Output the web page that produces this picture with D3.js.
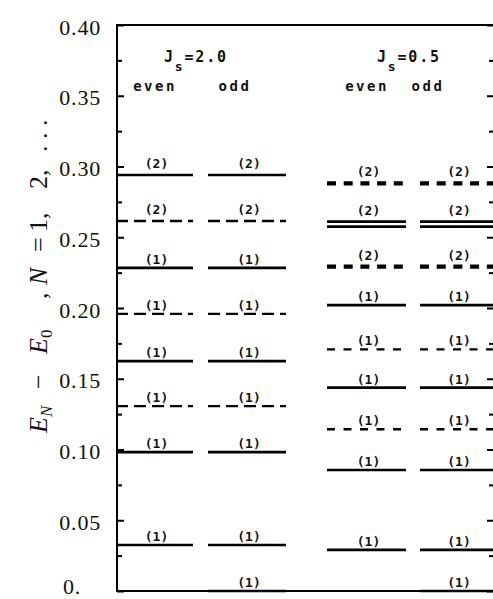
<!DOCTYPE html>
<html>
<head>
<meta charset="utf-8">
<script src="https://cdn.jsdelivr.net/npm/d3@7"></script>
<style>
  html, body { margin: 0; padding: 0; background: #fff; }
  svg { display: block; }
</style>
</head>
<body>
<div id="chart"></div>
<script>
// ---------------- data ----------------
const yTickValues = [0, 0.05, 0.10, 0.15, 0.20, 0.25, 0.30, 0.35, 0.40];
const yTickLabels = ["0.", "0.05", "0.10", "0.15", "0.20", "0.25", "0.30", "0.35", "0.40"];
const yMinorTicks = [0.025, 0.075, 0.125, 0.175, 0.225, 0.275, 0.325, 0.375];

const panelCouplings = ["2.0", "0.5"];
const sectorNames = ["even", "odd"];

// J_s = 2.0 : levels shared by even and odd sectors
const js20Energy = [0.294, 0.2615, 0.2283, 0.1958, 0.1625, 0.1307, 0.0982, 0.0325];
const js20Label  = ["(2)", "(2)", "(1)", "(1)", "(1)", "(1)", "(1)", "(1)"];
const js20Style  = ["solid", "dashed", "solid", "dashed", "solid", "dashed", "solid", "solid"];

// J_s = 0.5 : levels shared by even and odd sectors
const js05Energy = [0.2881, 0.2610, 0.2575, 0.2292, 0.2021, 0.1708, 0.1437, 0.1143, 0.0855, 0.029];
const js05Label  = ["(2)", "(2)", "", "(2)", "(1)", "(1)", "(1)", "(1)", "(1)", "(1)"];
const js05Style  = ["heavy", "solid", "solid", "heavy", "solid", "fine", "solid", "fine", "solid", "solid"];

// levels present only in the odd sector (both panels)
const oddOnlyEnergy = [0];
const oddOnlyLabel  = ["(1)"];
const oddOnlyStyle  = ["solid"];

// ---------------- layout ----------------
const W = 493, H = 599;
const plot = { left: 117, right: 494, top: 25, bottom: 591 };
const columnPx = [
  [[116, 193], [208, 286]],
  [[327, 406], [420, 494]]
];
const styleDefs = {
  solid:  { width: 2.7, dash: null },
  dashed: { width: 2.3, dash: "12,6" },
  fine:   { width: 2.3, dash: "8,8.5" },
  heavy:  { width: 4.3, dash: "9,7.7" }
};

const svg = d3.select("#chart").append("svg")
  .attr("width", W).attr("height", H);

const y = d3.scaleLinear().domain([0, 0.40]).range([plot.bottom, plot.top]);

// frame
const frame = svg.append("g").attr("stroke", "#000").attr("stroke-width", 2).attr("fill", "none");
frame.append("line").attr("x1", plot.left).attr("x2", plot.left).attr("y1", plot.top - 1).attr("y2", plot.bottom + 1);
frame.append("line").attr("x1", plot.right).attr("x2", plot.right).attr("y1", plot.top).attr("y2", plot.bottom);
frame.append("line").attr("x1", plot.left - 1).attr("x2", plot.right).attr("y1", plot.top).attr("y2", plot.top);
frame.append("line").attr("x1", plot.left - 1).attr("x2", plot.right).attr("y1", plot.bottom).attr("y2", plot.bottom);

// left axis (ticks inward)
const leftAxis = d3.axisRight(y).tickValues(yTickValues).tickSize(7).tickFormat("");
const gL = svg.append("g").attr("transform", `translate(${plot.left},0)`).call(leftAxis);
gL.select(".domain").remove();
gL.selectAll("line").attr("stroke-width", 2);
const leftMinor = d3.axisRight(y).tickValues(yMinorTicks).tickSize(5).tickFormat("");
const gLm = svg.append("g").attr("transform", `translate(${plot.left},0)`).call(leftMinor);
gLm.select(".domain").remove();
gLm.selectAll("line").attr("stroke-width", 2);

// right axis (ticks inward)
const rightAxis = d3.axisLeft(y).tickValues(yTickValues).tickSize(7).tickFormat("");
const gR = svg.append("g").attr("transform", `translate(${plot.right},0)`).call(rightAxis);
gR.select(".domain").remove();
gR.selectAll("line").attr("stroke-width", 2);
const rightMinor = d3.axisLeft(y).tickValues(yMinorTicks).tickSize(5).tickFormat("");
const gRm = svg.append("g").attr("transform", `translate(${plot.right},0)`).call(rightMinor);
gRm.select(".domain").remove();
gRm.selectAll("line").attr("stroke-width", 2);

// tick labels
svg.append("g").selectAll("text")
  .data(yTickValues)
  .join("text")
  .attr("x", (d, i) => i === 0 ? 81 : 101)
  .attr("y", (d, i) => i === 0 ? y(d) + 3 : y(d) + 2)
  .attr("dy", (d, i) => i === 0 ? "0" : "0.35em")
  .attr("text-anchor", "end")
  .attr("font-family", "'Liberation Serif', 'DejaVu Serif', serif")
  .attr("font-size", 22)
  .attr("letter-spacing", 0.8)
  .attr("fill", "#111")
  .text((d, i) => yTickLabels[i]);

// y axis title: pieces placed along the rotated baseline (screen y where each piece starts)
const titlePieces = [
  { t: "E", italic: true, sub: "N", at: 433 },
  { t: "\u2212", at: 389 },
  { t: "E", italic: true, sub: "0", at: 354 },
  { t: ",", at: 299 },
  { t: "N", italic: true, at: 285 },
  { t: "=", at: 252 },
  { t: "1,", at: 232 },
  { t: "2,", at: 189 },
  { t: ". . .", at: 152 }
];
const yt = svg.append("text")
  .attr("transform", `translate(47,0) rotate(-90)`)
  .attr("font-family", "'Liberation Serif', 'DejaVu Serif', serif")
  .attr("font-size", 26)
  .attr("fill", "#111");
titlePieces.forEach(p => {
  yt.append("tspan").attr("x", -p.at).attr("y", 0)
    .attr("font-style", p.italic ? "italic" : null).text(p.t);
  if (p.sub) {
    yt.append("tspan").attr("y", 5).attr("font-size", 17)
      .attr("font-style", p.sub === "N" ? "italic" : null).text(p.sub);
  }
});

// ---------------- levels ----------------
const panelLevels = [
  { energy: js20Energy, label: js20Label, style: js20Style },
  { energy: js05Energy, label: js05Label, style: js05Style }
];

const levels = [];
panelLevels.forEach((p, pi) => {
  sectorNames.forEach((s, si) => {
    p.energy.forEach((e, k) => levels.push({ pi, si, e, label: p.label[k], style: p.style[k] }));
    if (si === 1) {
      oddOnlyEnergy.forEach((e, k) => levels.push({ pi, si, e, label: oddOnlyLabel[k], style: oddOnlyStyle[k] }));
    }
  });
});

const gLev = svg.append("g");
gLev.selectAll("line")
  .data(levels)
  .join("line")
  .attr("x1", d => columnPx[d.pi][d.si][0])
  .attr("x2", d => columnPx[d.pi][d.si][1])
  .attr("y1", d => y(d.e))
  .attr("y2", d => y(d.e))
  .attr("stroke", "#000")
  .attr("stroke-width", d => styleDefs[d.style].width)
  .attr("stroke-dasharray", d => styleDefs[d.style].dash);

const plotterFont = "'DejaVu Sans Mono', monospace";
gLev.selectAll("text")
  .data(levels.filter(d => d.label))
  .join("text")
  .attr("x", d => (columnPx[d.pi][d.si][0] + columnPx[d.pi][d.si][1]) / 2 + 2)
  .attr("y", d => y(d.e) - (d.label === "(2)" ? 7 : 4))
  .attr("text-anchor", "middle")
  .attr("font-family", plotterFont)
  .attr("font-weight", "bold")
  .attr("font-size", 13)
  .attr("fill", "#111")
  .text(d => d.label);

// ---------------- panel headers ----------------
const headerX = [164, 377];
const sectorX = [[155, 235], [367, 428]];
panelCouplings.forEach((c, pi) => {
  const t = svg.append("text")
    .attr("x", headerX[pi]).attr("y", 62)
    .attr("font-family", plotterFont)
    .attr("font-size", 15)
    .attr("font-weight", "bold")
    .attr("letter-spacing", 1.8)
    .attr("fill", "#111");
  t.append("tspan").text("J");
  t.append("tspan").attr("font-size", 13).attr("dy", 9).text("s");
  t.append("tspan").attr("dy", -9).text("=" + c);

  sectorNames.forEach((s, si) => {
    svg.append("text")
      .attr("x", sectorX[pi][si])
      .attr("y", 91)
      .attr("text-anchor", "middle")
      .attr("font-family", plotterFont)
      .attr("font-size", 14)
      .attr("font-weight", "bold")
      .attr("letter-spacing", 2.5)
      .attr("fill", "#111")
      .text(s);
  });
});
</script>
</body>
</html>
